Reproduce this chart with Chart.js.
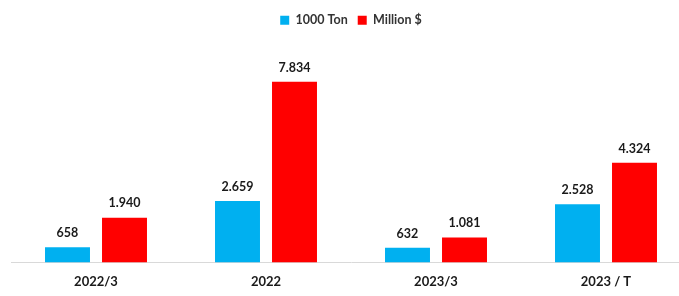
<!DOCTYPE html>
<html><head><meta charset="utf-8">
<script src="https://cdn.jsdelivr.net/npm/chart.js@4/dist/chart.umd.min.js"></script>
<style>html,body{margin:0;padding:0;overflow:hidden;background:#fff;width:679px;height:296px}#wrap{width:700px;height:296px;position:relative}</style>
</head><body><div id="wrap"><canvas id="c" width="700" height="296"></canvas></div>
<script>
const categories = ['2022/3', '2022', '2023/3', '2023 / T'];
const tons = [658, 2659, 632, 2528];
const millionUSD = [1940, 7834, 1081, 4324];
const seriesNames = ['1000 Ton', 'Million $'];

const fmt = v => v.toLocaleString('de-DE');
const labelPlugin = {
  id: 'valueLabels',
  afterDatasetsDraw(chart) {
    const ctx = chart.ctx;
    ctx.save();
    ctx.font = 'bold 12.5px Lato, "Open Sans", sans-serif';
    ctx.fillStyle = '#1a1a1a';
    ctx.textAlign = 'center';
    ctx.textBaseline = 'bottom';
    chart.data.datasets.forEach((ds, i) => {
      chart.getDatasetMeta(i).data.forEach((bar, j) => {
        ctx.fillText(fmt(ds.data[j]), bar.x, bar.y - 8);
      });
    });
    ctx.restore();
  }
};

new Chart(document.getElementById('c'), {
  type: 'bar',
  data: {
    labels: categories,
    datasets: [
      { label: seriesNames[0], data: tons, backgroundColor: '#00B0F0' },
      { label: seriesNames[1], data: millionUSD, backgroundColor: '#FF0000' }
    ]
  },
  options: {
    responsive: false,
    animation: false,
    devicePixelRatio: 1,
    categoryPercentage: 0.6706,
    barPercentage: 0.789,
    layout: { padding: { left: 11, right: 9, top: 4, bottom: -6 } },
    plugins: {
      legend: {
        display: true,
        position: 'top',
        labels: {
          boxWidth: 9, boxHeight: 9, padding: 10,
          color: '#333',
          font: { family: 'Lato, "Open Sans", sans-serif', size: 12.5, weight: 'bold' }
        }
      },
      tooltip: { enabled: false }
    },
    scales: {
      x: {
        grid: { display: false, drawTicks: false },
        border: { display: true, color: '#d9d9d9', width: 1 },
        ticks: { padding: 12, color: '#1a1a1a', font: { family: 'Lato, "Open Sans", sans-serif', size: 13, weight: 'bold' } }
      },
      y: {
        display: false,
        min: 0,
        max: 9800
      }
    }
  },
  plugins: [labelPlugin]
});
</script></body></html>
